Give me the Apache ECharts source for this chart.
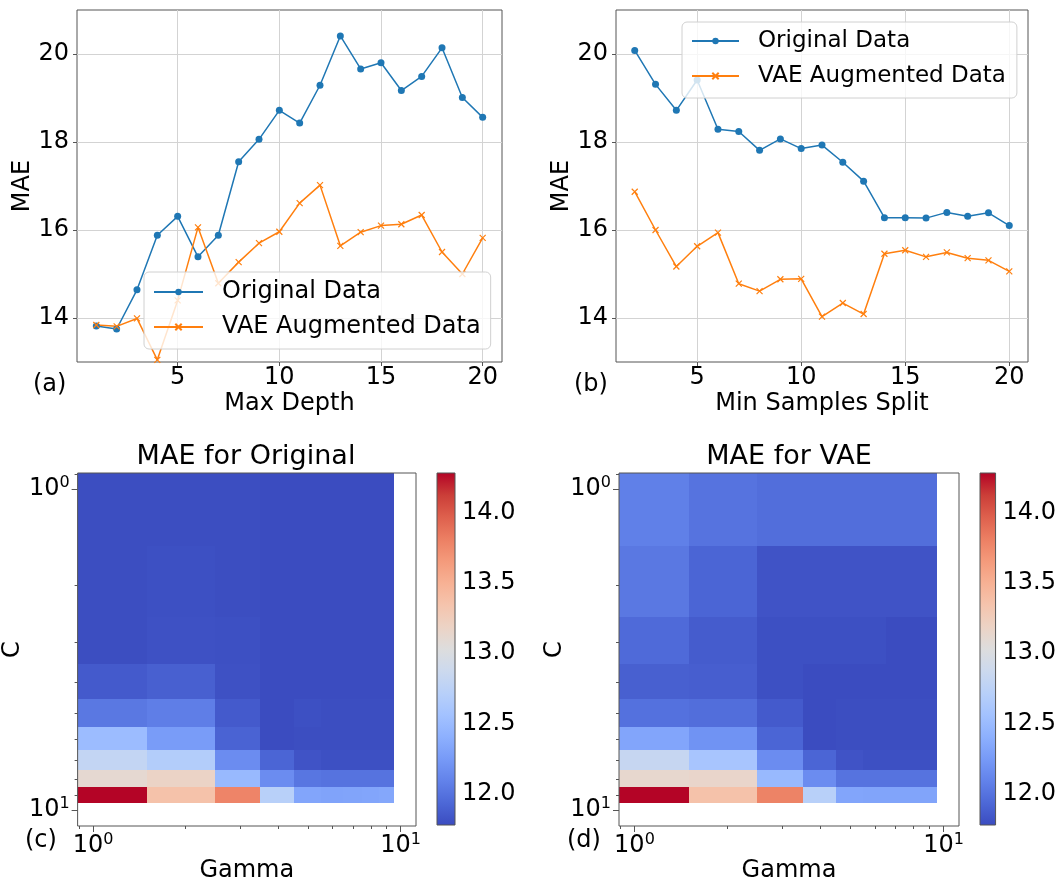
<!DOCTYPE html>
<html>
<head>
<meta charset="utf-8">
<script src="https://cdn.jsdelivr.net/npm/echarts@6/dist/echarts.min.js"></script>
<style>
  html, body { margin: 0; padding: 0; background: #fff; }
  #chart { width: 1059px; height: 884px; }
</style>
</head>
<body>
<div id="chart"></div>
<script>
// (a) max depth sweep
const depthValues = [1, 2, 3, 4, 5, 6, 7, 8, 9, 10, 11, 12, 13, 14, 15, 16, 17, 18, 19, 20];
const depthOriginal = [13.82, 13.75, 14.64, 15.88, 16.31, 15.39, 15.88, 17.55, 18.06, 18.72,
                       18.43, 19.29, 20.41, 19.66, 19.80, 19.17, 19.49, 20.14, 19.01, 18.56];
const depthVae = [13.84, 13.81, 13.99, 13.05, 14.40, 16.06, 14.79, 15.27, 15.70, 15.96,
                  16.61, 17.02, 15.64, 15.95, 16.10, 16.13, 16.34, 15.50, 15.00, 15.82];

// (b) min samples split sweep
const splitValues = [2, 3, 4, 5, 6, 7, 8, 9, 10, 11, 12, 13, 14, 15, 16, 17, 18, 19, 20];
const splitOriginal = [20.08, 19.31, 18.72, 19.41, 18.29, 18.24, 17.81, 18.07, 17.85, 17.93,
                       17.54, 17.11, 16.28, 16.28, 16.27, 16.40, 16.31, 16.39, 16.10];
const splitVae = [16.87, 16.00, 15.17, 15.63, 15.94, 14.78, 14.61, 14.88, 14.89, 14.03,
                  14.34, 14.09, 15.46, 15.54, 15.39, 15.49, 15.36, 15.31, 15.06];

const lineXTicks = [5, 10, 15, 20];
const maeTicks = [14, 16, 18, 20];

// (c)/(d) grid search, rows = C, cols = Gamma
const gammaValues = [1, 2, 3, 4, 5, 6, 7, 8, 9];
const cValues = [1, 2, 3, 4, 5, 6, 7, 8, 9];
const gammaEdges = [0.5, 1.5, 2.5, 3.5, 4.5, 5.5, 6.5, 7.5, 8.5, 9.5];
const cEdges = [0.5, 1.5, 2.5, 3.5, 4.5, 5.5, 6.5, 7.5, 8.5, 9.5];
const maeOriginal = [
  [11.79, 11.79, 11.79, 11.78, 11.78, 11.78, 11.78, 11.78, 11.78],
  [11.79, 11.80, 11.79, 11.78, 11.78, 11.78, 11.78, 11.78, 11.78],
  [11.79, 11.81, 11.80, 11.78, 11.78, 11.78, 11.78, 11.78, 11.78],
  [11.86, 11.89, 11.81, 11.78, 11.78, 11.78, 11.78, 11.78, 11.78],
  [12.03, 12.07, 11.86, 11.78, 11.80, 11.79, 11.79, 11.79, 11.79],
  [12.51, 12.26, 11.91, 11.78, 11.79, 11.79, 11.79, 11.79, 11.79],
  [12.80, 12.68, 12.16, 11.92, 11.82, 11.80, 11.80, 11.80, 11.80],
  [13.11, 13.18, 12.48, 12.16, 12.02, 12.00, 12.00, 12.00, 12.00],
  [14.28, 13.36, 13.78, 12.72, 12.33, 12.31, 12.32, 12.33, 12.34]
];
const maeVae = [
  [12.08, 12.00, 11.97, 11.97, 11.97, 11.97, 11.97, 11.97, 11.97],
  [12.03, 11.92, 11.82, 11.82, 11.82, 11.82, 11.82, 11.82, 11.82],
  [11.95, 11.87, 11.80, 11.80, 11.80, 11.80, 11.78, 11.78, 11.78],
  [11.89, 11.88, 11.80, 11.78, 11.78, 11.78, 11.78, 11.78, 11.78],
  [11.99, 11.97, 11.86, 11.78, 11.79, 11.79, 11.79, 11.79, 11.79],
  [12.33, 12.20, 11.92, 11.78, 11.79, 11.79, 11.79, 11.79, 11.79],
  [12.83, 12.60, 12.16, 11.92, 11.82, 11.80, 11.80, 11.80, 11.80],
  [13.13, 13.15, 12.48, 12.16, 12.00, 12.00, 12.00, 12.00, 12.00],
  [14.28, 13.36, 13.79, 12.72, 12.33, 12.32, 12.32, 12.32, 12.32]
];
const colorMin = 11.78;
const colorMax = 14.28;
const colorbarTicks = [12.0, 12.5, 13.0, 13.5, 14.0];
const logMajorTicks = [1, 10];
const logMinorTicks = [0.9, 2, 3, 4, 5, 6, 7, 8, 9];
const logMin = Math.pow(10, -0.05);
const logMax = Math.pow(10, 1.05);

const coolwarm = ['#3b4cc0', '#4d68d7', '#6282ea', '#779af7', '#8db0fe', '#a3c2ff', '#b8d0f9',
  '#ccd9ee', '#dddddd', '#ecd3c5', '#f5c4ad', '#f7b194', '#f49a7b', '#ec7f63', '#de604d',
  '#cb3e38', '#b40426'];

const FONT = 'DejaVu Sans';
const BLUE = '#1f77b4';
const ORANGE = '#ff7f0e';
const SPINE = '#555';

var chart = echarts.init(document.getElementById('chart'));

function zip(xs, ys) {
  return xs.map(function (x, i) { return [x, ys[i]]; });
}

function cellData(matrix) {
  var out = [];
  cValues.forEach(function (c, r) {
    gammaValues.forEach(function (g, k) {
      out.push([g, c, matrix[r][k]]);
    });
  });
  return out;
}

function renderCell(params, api) {
  var col = gammaValues.indexOf(api.value(0));
  var row = cValues.indexOf(api.value(1));
  var p0 = api.coord([gammaEdges[col], cEdges[row]]);
  var p1 = api.coord([gammaEdges[col + 1], cEdges[row + 1]]);
  var cs = params.coordSys;
  var x0 = Math.round(Math.min(p0[0], p1[0])), x1 = Math.round(Math.max(p0[0], p1[0]));
  var y0 = Math.round(Math.min(p0[1], p1[1])), y1 = Math.round(Math.max(p0[1], p1[1]));
  var rect = echarts.graphic.clipRectByRect(
    { x: x0, y: y0, width: x1 - x0, height: y1 - y0 },
    { x: cs.x, y: cs.y, width: cs.width, height: cs.height });
  if (!rect) return;
  return { type: 'rect', shape: rect, style: { fill: api.visual('color') } };
}

function renderColorbar(params, api) {
  var a = api.coord([api.value(0), api.value(3)]);
  var b = api.coord([api.value(2), api.value(1)]);
  var stops = coolwarm.slice().reverse().map(function (c, i, arr) {
    return { offset: i / (arr.length - 1), color: c };
  });
  return {
    type: 'rect',
    shape: { x: a[0], y: a[1], width: b[0] - a[0], height: b[1] - a[1] },
    style: { fill: new echarts.graphic.LinearGradient(0, 0, 0, 1, stops) }
  };
}

function supLabel(v) {
  return '{b|10}{s|' + Math.round(Math.log10(v)) + '}';
}

var labelText = { color: '#000', fontFamily: FONT, fontSize: 24 };

function lineXAxis(grid, min, max, name) {
  return {
    type: 'value', gridIndex: grid, min: min, max: max,
    name: name, nameLocation: 'middle', nameGap: 30,
    nameTextStyle: labelText,
    axisLine: { show: false },
    axisTick: { show: true, customValues: lineXTicks, length: 4, lineStyle: { color: SPINE } },
    axisLabel: Object.assign({ customValues: lineXTicks, margin: 4 }, labelText),
    splitLine: { show: true, lineStyle: { color: '#d3d3d3', width: 1 } }
  };
}

function lineYAxis(grid, name) {
  return {
    type: 'value', gridIndex: grid, min: 13, max: 21,
    name: name, nameLocation: 'middle', nameGap: 37,
    nameTextStyle: labelText,
    axisLine: { show: false },
    axisTick: { show: true, customValues: maeTicks, length: 4, lineStyle: { color: SPINE } },
    axisLabel: Object.assign({ customValues: maeTicks, margin: 8 }, labelText),
    splitLine: { show: true, lineStyle: { color: '#d3d3d3', width: 1 } }
  };
}

var supRich = {
  b: { fontFamily: FONT, fontSize: 24, color: '#000', lineHeight: 28 },
  s: { fontFamily: FONT, fontSize: 16, color: '#000', verticalAlign: 'top', lineHeight: 16 }
};

function logAxisMajor(grid, name, isY) {
  var ax = {
    type: 'log', logBase: 10, gridIndex: grid, min: logMin, max: logMax,
    name: name, nameLocation: 'middle', nameGap: isY ? 50 : 30,
    nameTextStyle: labelText,
    axisLine: { show: false },
    axisTick: { show: true, customValues: logMajorTicks, length: 6, lineStyle: { color: SPINE } },
    axisLabel: { customValues: logMajorTicks, margin: isY ? 8 : 6, formatter: supLabel, rich: supRich },
    splitLine: { show: false }
  };
  if (isY) ax.inverse = true;
  return ax;
}

function logAxisMinor(grid, isY) {
  var ax = {
    type: 'log', logBase: 10, gridIndex: grid, min: logMin, max: logMax,
    position: isY ? 'left' : 'bottom',
    axisLine: { show: false },
    axisTick: { show: true, customValues: logMinorTicks, length: 3, lineStyle: { color: SPINE } },
    axisLabel: { show: false },
    splitLine: { show: false }
  };
  if (isY) ax.inverse = true;
  return ax;
}

function colorbarY(grid) {
  return {
    type: 'value', gridIndex: grid, min: colorMin, max: colorMax, position: 'right',
    axisLine: { show: false },
    axisTick: { show: true, customValues: colorbarTicks, length: 4, lineStyle: { color: SPINE } },
    axisLabel: Object.assign({
      customValues: colorbarTicks, margin: 7,
      formatter: function (v) { return v.toFixed(1); }
    }, labelText),
    splitLine: { show: false }
  };
}

function hiddenX(grid) {
  return { type: 'value', gridIndex: grid, min: 0, max: 1, show: false };
}

function legendFor(left, top, fontSize, iconWidth, padding) {
  return {
    left: left, top: top, orient: 'vertical',
    data: ['Original Data', 'VAE Augmented Data'],
    selectedMode: false,
    itemWidth: iconWidth, itemHeight: 8, itemGap: 7,
    padding: padding,
    backgroundColor: 'rgba(255,255,255,0.8)',
    borderColor: '#d0d0d0', borderWidth: 1, borderRadius: 5,
    textStyle: { color: '#000', fontFamily: FONT, fontSize: fontSize, lineHeight: 28, padding: [0, 0, 0, 14] }
  };
}

var xMark = 'path://M0,0L10,10M10,0L0,10';

function lineSeries(name, xi, data, isVae) {
  return {
    name: name, type: 'line', xAxisIndex: xi, yAxisIndex: xi, data: data,
    symbol: isVae ? xMark : 'circle',
    symbolSize: isVae ? 6 : 7,
    showAllSymbol: true,
    lineStyle: { width: 1.5, color: isVae ? ORANGE : BLUE },
    itemStyle: isVae ? { color: ORANGE, borderColor: ORANGE, borderWidth: 1.2 } : { color: BLUE, borderWidth: 0 },
    emphasis: { disabled: true },
    animation: false
  };
}

var gridBox = { show: true, borderColor: SPINE, borderWidth: 1, backgroundColor: 'transparent' };

function panelText(text, x, y, size, align) {
  return {
    type: 'text', x: x, y: y, silent: true,
    style: { text: text, font: size + 'px "DejaVu Sans"', fill: '#000', align: align, verticalAlign: 'middle' }
  };
}

const option = {
  animation: false,
  textStyle: { fontFamily: FONT },
  grid: [
    Object.assign({ left: 77, top: 10, width: 425, height: 352 }, gridBox),
    Object.assign({ left: 616, top: 10, width: 412, height: 352 }, gridBox),
    Object.assign({ left: 76, top: 473, width: 340, height: 353, z: 3 }, gridBox),
    Object.assign({ left: 437, top: 473, width: 18, height: 352, z: 3 }, gridBox),
    Object.assign({ left: 619, top: 473, width: 340, height: 353, z: 3 }, gridBox),
    Object.assign({ left: 980, top: 473, width: 18, height: 352, z: 3 }, gridBox)
  ],
  xAxis: [
    lineXAxis(0, 0.05, 20.95, 'Max Depth'),
    lineXAxis(1, 1.1, 20.9, 'Min Samples Split'),
    logAxisMajor(2, 'Gamma', false),
    logAxisMinor(2, false),
    hiddenX(3),
    logAxisMajor(4, 'Gamma', false),
    logAxisMinor(4, false),
    hiddenX(5)
  ],
  yAxis: [
    lineYAxis(0, 'MAE'),
    lineYAxis(1, 'MAE'),
    logAxisMajor(2, 'C', true),
    logAxisMinor(2, true),
    colorbarY(3),
    logAxisMajor(4, 'C', true),
    logAxisMinor(4, true),
    colorbarY(5)
  ],
  legend: [
    legendFor(144, 272, 24, 49, [6, 10, 8, 9]),
    legendFor(682, 22, 23, 47, [5, 11, 8, 9])
  ],
  visualMap: {
    type: 'continuous', show: false, seriesIndex: [4, 6], dimension: 2,
    min: colorMin, max: colorMax,
    inRange: { color: coolwarm }
  },
  series: [
    lineSeries('Original Data', 0, zip(depthValues, depthOriginal), false),
    lineSeries('VAE Augmented Data', 0, zip(depthValues, depthVae), true),
    lineSeries('Original Data', 1, zip(splitValues, splitOriginal), false),
    lineSeries('VAE Augmented Data', 1, zip(splitValues, splitVae), true),
    {
      type: 'custom', xAxisIndex: 2, yAxisIndex: 2, data: cellData(maeOriginal),
      renderItem: renderCell, encode: { x: 0, y: 1 }, silent: true
    },
    {
      type: 'custom', xAxisIndex: 4, yAxisIndex: 4, data: [[0, colorMin, 1, colorMax]],
      renderItem: renderColorbar, encode: { x: [0, 2], y: [1, 3] }, silent: true
    },
    {
      type: 'custom', xAxisIndex: 5, yAxisIndex: 5, data: cellData(maeVae),
      renderItem: renderCell, encode: { x: 0, y: 1 }, silent: true
    },
    {
      type: 'custom', xAxisIndex: 7, yAxisIndex: 7, data: [[0, colorMin, 1, colorMax]],
      renderItem: renderColorbar, encode: { x: [0, 2], y: [1, 3] }, silent: true
    }
  ],
  graphic: [
    panelText('(a)', 33, 385, 24, 'left'),
    panelText('(b)', 574, 385, 24, 'left'),
    panelText('(c)', 25, 841, 24, 'left'),
    panelText('(d)', 567, 841, 24, 'left'),
    panelText('MAE for Original', 246, 457, 27, 'center'),
    panelText('MAE for VAE', 789, 457, 27, 'center')
  ]
};

chart.setOption(option);
</script>
</body>
</html>
